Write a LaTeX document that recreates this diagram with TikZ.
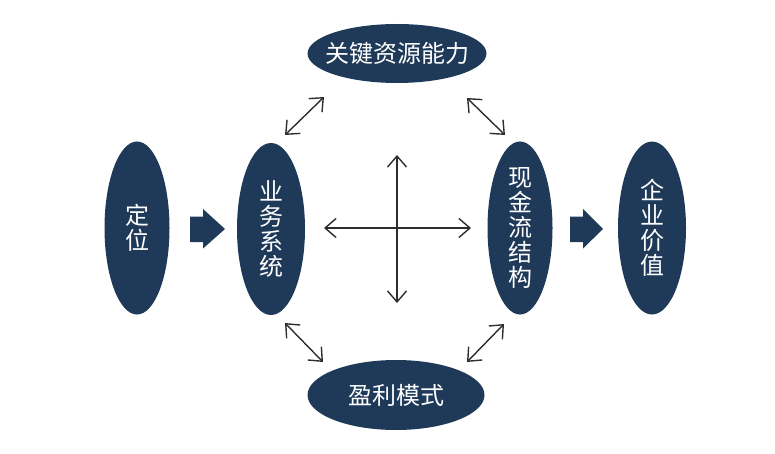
\documentclass[tikz,border=0pt]{standalone}
\usepackage{fontspec}
\newfontfamily\cjk{Noto Sans CJK SC}
\usetikzlibrary{shapes.geometric,arrows.meta}
\definecolor{navy}{RGB}{31,58,88}
\definecolor{linegray}{RGB}{45,45,45}
\begin{document}
\begin{tikzpicture}[x=1pt,y=-1pt,
  oval/.style={ellipse,fill=navy,inner sep=0pt,draw=none},
  ovaltext/.style={text=white,font=\cjk\fontsize{24}{25}\selectfont,align=center,inner sep=0pt},
  link/.style={draw=linegray,line width=1.4pt,{Straight Barb[length=11pt,width=19pt]}-{Straight Barb[length=11pt,width=19pt]}},
  blockarrow/.style={fill=navy}]
\useasboundingbox (0,0) rectangle (775,454);
% ellipses
\node[oval,minimum width=65pt,minimum height=173pt] (dw) at (137,228) {};
\node[ovaltext] (dwt) at (dw.center) {定\\位};
\node[oval,minimum width=68pt,minimum height=172pt] (yw) at (271,229) {};
\node[ovaltext] (ywt) at (yw.center) {业\\务\\系\\统};
\node[oval,minimum width=65pt,minimum height=173pt] (xj) at (520,228) {};
\node[ovaltext] (xjt) at (xj.center) {现\\金\\流\\结\\构};
\node[oval,minimum width=68pt,minimum height=173pt] (qy) at (652,228) {};
\node[ovaltext] (qyt) at (qy.center) {企\\业\\价\\值};
\node[oval,minimum width=179pt,minimum height=59pt] (gj) at (397,53.5) {};
\node[ovaltext] (gjt) at (gj.center) {关键资源能力};
\node[oval,minimum width=177pt,minimum height=70pt] (yl) at (396,395) {};
\node[ovaltext] (ylt) at (yl.center) {盈利模式};
% block arrows
\coordinate (b1) at (190,229);
\coordinate (b2) at (570,229);
\fill[blockarrow] (b1) ++(0,-12.5) -- ++(13,0) -- ++(0,-7.5) -- ++(22,20) -- ++(-22,19.5) -- ++(0,-6.5) -- ++(-13,0) -- cycle;
\fill[blockarrow] (b2) ++(0,-12.5) -- ++(13,0) -- ++(0,-7.5) -- ++(20,20) -- ++(-20,19.5) -- ++(0,-6.5) -- ++(-13,0) -- cycle;
% cross
\coordinate (cl) at (324,228);
\coordinate (cr) at (471,228);
\coordinate (ct) at (397,155);
\coordinate (cb) at (397,303);
\draw[link] (cl) -- (cr);
\draw[link] (ct) -- (cb);
% diagonal arrows
\coordinate (tl1) at (285,135); \coordinate (tl2) at (324,97);
\coordinate (tr1) at (467,98);  \coordinate (tr2) at (505,135);
\coordinate (bl1) at (285,323); \coordinate (bl2) at (323,362);
\coordinate (br1) at (467,362); \coordinate (br2) at (504,324);
\draw[link] (tl1) -- (tl2);
\draw[link] (tr1) -- (tr2);
\draw[link] (bl1) -- (bl2);
\draw[link] (br1) -- (br2);
\end{tikzpicture}
\end{document}
